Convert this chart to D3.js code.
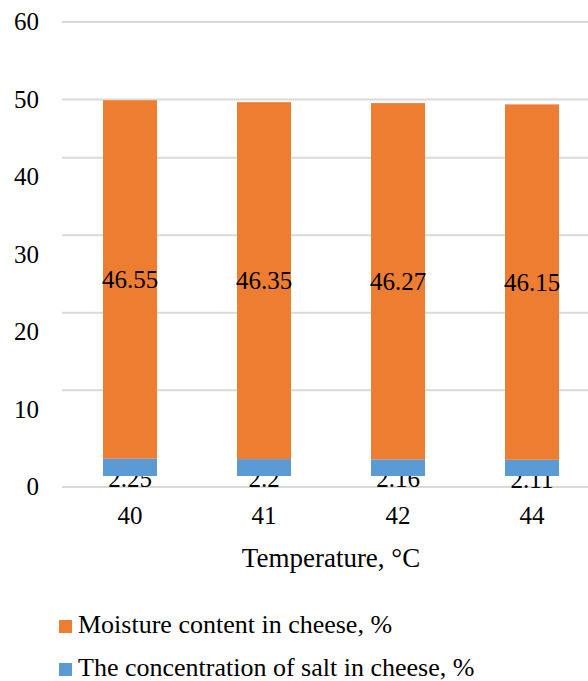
<!DOCTYPE html>
<html><head><meta charset="utf-8">
<script src="https://cdn.jsdelivr.net/npm/d3@7"></script>
<style>body{margin:0;background:#fff}svg{display:block}text{font-family:"Liberation Serif","Times New Roman",serif;fill:#000}</style>
</head><body><div id="chart"></div>
<script>
const categories = ["40", "41", "42", "44"];
const moisture = [46.55, 46.35, 46.27, 46.15];
const salt = [2.25, 2.2, 2.16, 2.11];
const yTickLabels = [0, 10, 20, 30, 40, 50, 60];
const gridValues = [0, 12.5, 22.5, 32.5, 42.5, 50, 60];
const seriesNames = ["Moisture content in cheese, %", "The concentration of salt in cheese, %"];
const xTitle = "Temperature, °C";
const colors = {moisture: "#ED7D31", salt: "#5B9BD5"};

const W = 588, H = 681;
const svg = d3.select("#chart").append("svg").attr("width", W).attr("height", H);

const x = d3.scaleBand().domain(categories).range([63, 599]).paddingInner(0.597).paddingOuter(0.2985);
const y = d3.scaleLinear().domain([0, 60]).range([487, 22]);
const yb = d3.scaleLinear().domain([0, 60]).range([476, 476 - 60 * 7.7]);

// gridlines
svg.append("g").selectAll("line").data(gridValues).join("line")
  .attr("x1", 62).attr("x2", W).attr("y1", d => y(d)).attr("y2", d => y(d))
  .attr("stroke", "#d9d9d9").attr("stroke-width", 2);

// y tick labels
svg.append("g").selectAll("text").data(yTickLabels).join("text")
  .attr("x", 39).attr("y", d => y(d)).attr("dy", "0.33em")
  .attr("text-anchor", "end").style("font-size", "25px").text(d => d);

// salt labels (behind bars)
svg.append("g").selectAll("text").data(salt).join("text")
  .attr("x", (d, i) => x(categories[i]) + x.bandwidth() / 2)
  .attr("y", d => y(d / 2)).attr("dy", "0.35em")
  .attr("text-anchor", "middle").style("font-size", "25px").text(d => d);

// bars
const g = svg.append("g");
g.selectAll("rect.salt").data(salt).join("rect").attr("class", "salt")
  .attr("x", (d, i) => x(categories[i])).attr("width", x.bandwidth())
  .attr("y", d => yb(d)).attr("height", d => yb(0) - yb(d)).attr("fill", colors.salt);
g.selectAll("rect.moist").data(moisture).join("rect").attr("class", "moist")
  .attr("x", (d, i) => x(categories[i])).attr("width", x.bandwidth())
  .attr("y", (d, i) => yb(salt[i] + d)).attr("height", (d, i) => yb(salt[i]) - yb(salt[i] + d)).attr("fill", colors.moisture);

// moisture labels
svg.append("g").selectAll("text").data(moisture).join("text")
  .attr("x", (d, i) => x(categories[i]) + x.bandwidth() / 2)
  .attr("y", (d, i) => yb(salt[i] + d / 2)).attr("dy", "0.35em")
  .attr("text-anchor", "middle").style("font-size", "25px").text(d => d);

// x labels
svg.append("g").selectAll("text").data(categories).join("text")
  .attr("x", d => x(d) + x.bandwidth() / 2).attr("y", 524)
  .attr("text-anchor", "middle").style("font-size", "25px").text(d => d);

svg.append("text").attr("x", (63 + 599) / 2).attr("y", 567)
  .attr("text-anchor", "middle").style("font-size", "27px").text(xTitle);

// legend
const leg = svg.append("g");
const legItems = [{name: seriesNames[0], c: colors.moisture, y: 633}, {name: seriesNames[1], c: colors.salt, y: 676}];
legItems.forEach(it => {
  leg.append("rect").attr("x", 59).attr("y", it.y - 13).attr("width", 13).attr("height", 13).attr("fill", it.c);
  leg.append("text").attr("x", 78).attr("y", it.y).style("font-size", "26px").text(it.name);
});
</script></body></html>
